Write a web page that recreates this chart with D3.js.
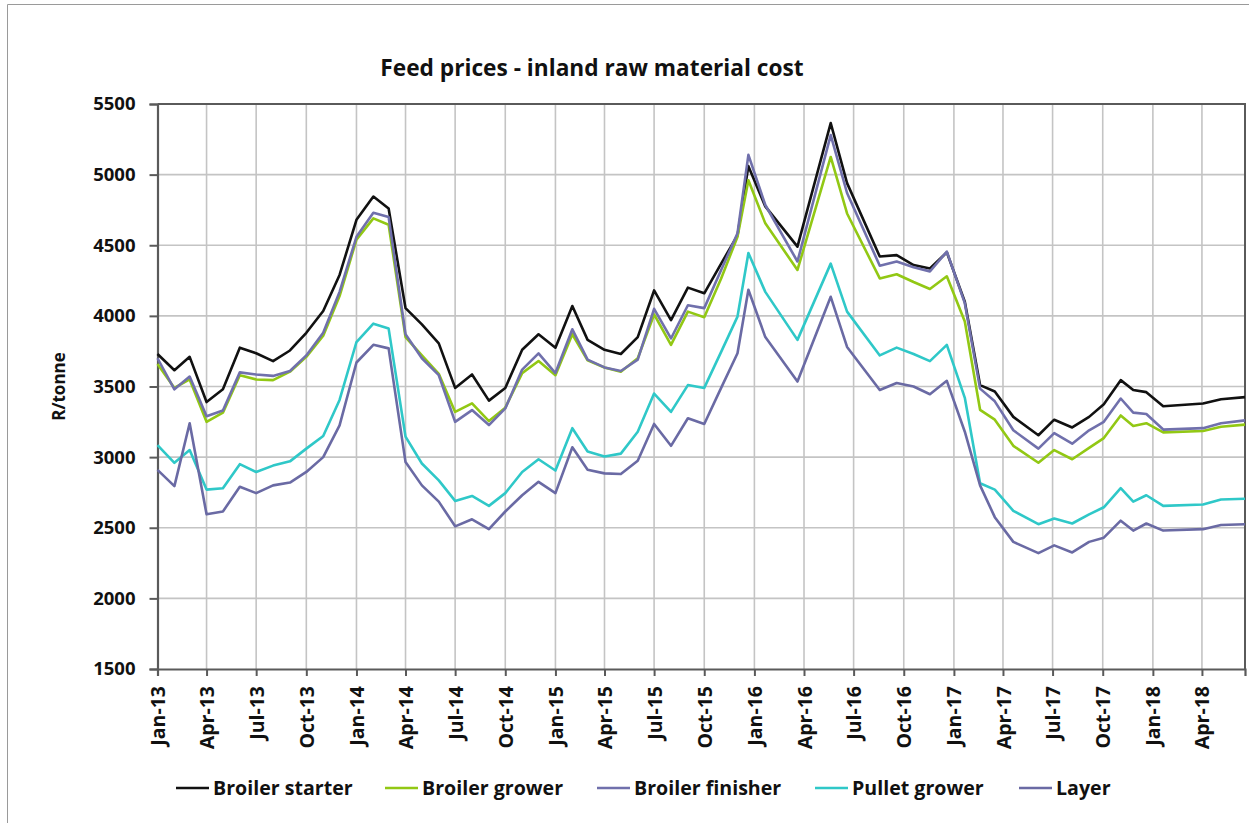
<!DOCTYPE html>
<html>
<head>
<meta charset="utf-8">
<script src="https://cdn.jsdelivr.net/npm/d3@7"></script>
<style>
  html, body { margin: 0; padding: 0; background: #fff; }
  svg { display: block; font-family: "Open Sans", Lato, sans-serif; }
</style>
</head>
<body>
<svg id="chart" width="1249" height="823"></svg>
<script>
// ---------------- DATA ----------------
const dates = [
  "2013-01-01","2013-02-01","2013-03-01","2013-04-01","2013-05-01","2013-06-01",
  "2013-07-01","2013-08-01","2013-09-01","2013-10-01","2013-11-01","2013-12-01",
  "2014-01-01","2014-02-01","2014-03-01","2014-04-01","2014-05-01","2014-06-01",
  "2014-07-01","2014-08-01","2014-09-01","2014-10-01","2014-11-01","2014-12-01",
  "2015-01-01","2015-02-01","2015-03-01","2015-04-01","2015-05-01","2015-06-01",
  "2015-07-01","2015-08-01","2015-09-01","2015-10-01","2015-11-01","2015-12-01",
  "2015-12-21","2016-01-21","2016-03-20","2016-05-20","2016-06-19","2016-08-18",
  "2016-09-18","2016-10-19","2016-11-18","2016-12-19","2017-01-21","2017-02-18",
  "2017-03-17","2017-04-20","2017-06-05","2017-07-04","2017-08-06","2017-09-06",
  "2017-10-03","2017-11-03","2017-11-26","2017-12-20","2018-01-20","2018-04-03",
  "2018-05-06","2018-06-19"
];

const broilerStarter = [
  3730,3615,3710,3390,3480,3775,3735,3680,3755,3880,4035,4290,
  4680,4845,4760,4055,3940,3805,3490,3585,3400,3490,3760,3870,
  3775,4070,3830,3760,3730,3850,4180,3970,4200,4160,4370,4570,
  5060,4775,4490,5365,4940,4420,4430,4360,4335,4450,4100,3510,
  3465,3285,3155,3265,3210,3285,3375,3545,3475,3460,3360,3380,
  3410,3425
];
const broilerGrower = [
  3660,3490,3550,3250,3315,3580,3550,3545,3605,3710,3860,4140,
  4540,4690,4645,3850,3720,3590,3320,3380,3255,3350,3595,3680,
  3580,3870,3685,3635,3604,3700,4010,3795,4030,3990,4265,4560,
  4960,4655,4325,5125,4725,4265,4295,4240,4190,4280,3960,3335,
  3265,3080,2960,3050,2985,3065,3135,3295,3220,3240,3175,3185,
  3215,3230
];
const broilerFinisher = [
  3700,3480,3570,3290,3330,3600,3585,3575,3610,3720,3880,4170,
  4560,4730,4700,3870,3700,3580,3250,3333,3227,3345,3620,3735,
  3595,3905,3690,3635,3610,3690,4050,3840,4075,4055,4325,4585,
  5140,4785,4385,5280,4870,4355,4385,4345,4315,4455,4090,3485,
  3395,3190,3060,3170,3095,3190,3250,3415,3315,3305,3195,3205,
  3240,3260
];
const pulletGrower = [
  3085,2960,3050,2770,2780,2950,2895,2940,2970,3060,3150,3405,
  3815,3945,3910,3145,2955,2835,2690,2725,2655,2745,2895,2985,
  2905,3205,3040,3005,3025,3180,3450,3320,3510,3490,3745,3995,
  4445,4170,3830,4370,4030,3720,3775,3730,3680,3795,3420,2815,
  2770,2620,2525,2565,2530,2595,2645,2780,2685,2730,2655,2665,
  2700,2705
];
const layer = [
  2910,2795,3240,2595,2615,2790,2745,2800,2820,2895,3000,3225,
  3670,3795,3770,2965,2800,2685,2510,2560,2490,2615,2730,2825,
  2745,3070,2910,2885,2880,2975,3235,3080,3275,3235,3490,3735,
  4185,3850,3535,4135,3780,3475,3525,3500,3445,3540,3180,2800,
  2575,2400,2320,2375,2325,2400,2430,2550,2480,2530,2480,2490,
  2520,2525
];

const seriesNames = ["Broiler starter","Broiler grower","Broiler finisher","Pullet grower","Layer"];
const seriesColors = ["#111111","#92c814","#7070ac","#2fc8c8","#6a6aa4"];
const seriesValues = [broilerStarter, broilerGrower, broilerFinisher, pulletGrower, layer];

const yTicks = [1500,2000,2500,3000,3500,4000,4500,5000,5500];
const xTickDates = [
  "2013-01-01","2013-04-01","2013-07-01","2013-10-01",
  "2014-01-01","2014-04-01","2014-07-01","2014-10-01",
  "2015-01-01","2015-04-01","2015-07-01","2015-10-01",
  "2016-01-01","2016-04-01","2016-07-01","2016-10-01",
  "2017-01-01","2017-04-01","2017-07-01","2017-10-01",
  "2018-01-01","2018-04-01"
];
const titleText = "Feed prices - inland raw material cost";
const yTitle = "R/tonne";

// ---------------- LAYOUT ----------------
const parse = d3.timeParse("%Y-%m-%d");
const fmt = d3.timeFormat("%b-%y");
const svg = d3.select("#chart");
const FONT = "'Open Sans', Lato, sans-serif";

const plot = { left: 157.5, right: 1245, top: 104, bottom: 669 };
const legendX = [176, 385, 597, 815, 1019];

const x = d3.scaleTime()
  .domain([parse(dates[0]), parse(dates[dates.length - 1])])
  .range([plot.left, plot.right]);
const y = d3.scaleLinear()
  .domain([1500, 5500])
  .range([plot.bottom, plot.top]);

// outer frame (left & top edges visible)
svg.append("path")
  .attr("d", "M7.5,823 V4.5 H1249")
  .attr("fill", "none").attr("stroke", "#9a9a9a").attr("stroke-width", 1);

// title
svg.append("text")
  .attr("x", 592).attr("y", 76)
  .attr("text-anchor", "middle")
  .attr("font-family", FONT)
  .attr("font-size", 22.7).attr("font-weight", 700).attr("fill", "#111")
  .text(titleText);

// gridlines
const gGrid = svg.append("g");
gGrid.selectAll("line.h").data(yTicks.slice(1, -1)).join("line")
  .attr("x1", plot.left).attr("x2", plot.right)
  .attr("y1", d => y(d)).attr("y2", d => y(d))
  .attr("stroke", "#c4c4c4").attr("stroke-width", 1.6);
gGrid.selectAll("line.v").data(xTickDates.slice(1)).join("line")
  .attr("x1", d => x(parse(d))).attr("x2", d => x(parse(d)))
  .attr("y1", plot.top).attr("y2", plot.bottom)
  .attr("stroke", "#c4c4c4").attr("stroke-width", 1.6);

// plot border top/right
svg.append("path")
  .attr("d", `M${plot.left},${plot.top} H${plot.right} V${plot.bottom}`)
  .attr("fill", "none").attr("stroke", "#5a5a5a").attr("stroke-width", 2);

// y axis
const yAxis = d3.axisLeft(y).tickValues(yTicks).tickSize(8).tickPadding(14).tickFormat(d3.format("d"));
const gy = svg.append("g").attr("transform", `translate(${plot.left},0)`).call(yAxis);
gy.select(".domain").attr("stroke", "#5a5a5a").attr("stroke-width", 2.2);
gy.selectAll(".tick line").attr("stroke", "#5a5a5a").attr("stroke-width", 2);
gy.selectAll(".tick text")
  .attr("font-family", FONT).attr("font-size", 18.5).attr("font-weight", 700).attr("fill", "#111");

// x axis
const xAxis = d3.axisBottom(x).tickValues(xTickDates.map(parse)).tickSize(7).tickFormat(fmt);
const gx = svg.append("g").attr("transform", `translate(0,${plot.bottom})`).call(xAxis);
gx.select(".domain").attr("stroke", "#5a5a5a").attr("stroke-width", 2.2);
gx.selectAll(".tick line").attr("stroke", "#5a5a5a").attr("stroke-width", 2);
gx.selectAll(".tick text")
  .attr("font-family", FONT).attr("font-size", 19.5).attr("font-weight", 700).attr("fill", "#111")
  .attr("text-anchor", "end")
  .attr("transform", "rotate(-90)")
  .attr("x", -17).attr("y", 0).attr("dy", "0.36em");

// y title
svg.append("text")
  .attr("transform", `translate(65,${(plot.top + plot.bottom) / 2}) rotate(-90)`)
  .attr("text-anchor", "middle")
  .attr("font-family", FONT)
  .attr("font-size", 17).attr("font-weight", 700).attr("fill", "#111")
  .text(yTitle);

// lines
const line = d3.line()
  .x((d, i) => x(parse(dates[i])))
  .y(d => y(d));
svg.append("g").selectAll("path").data(seriesValues).join("path")
  .attr("d", d => line(d))
  .attr("fill", "none")
  .attr("stroke", (d, i) => seriesColors[i])
  .attr("stroke-width", 2.6)
  .attr("stroke-linejoin", "round");

// legend
const legend = svg.append("g").attr("transform", "translate(0,788)");
seriesNames.forEach((name, i) => {
  const g = legend.append("g").attr("transform", `translate(${legendX[i]},0)`);
  g.append("line").attr("x1", 0).attr("x2", 33).attr("y1", 0).attr("y2", 0)
    .attr("stroke", seriesColors[i]).attr("stroke-width", 2.6);
  g.append("text").attr("x", 37).attr("y", 0).attr("dy", "0.35em")
    .attr("font-family", FONT)
    .attr("font-size", 19.6).attr("font-weight", 700).attr("fill", "#111").text(name);
});
</script>
</body>
</html>
